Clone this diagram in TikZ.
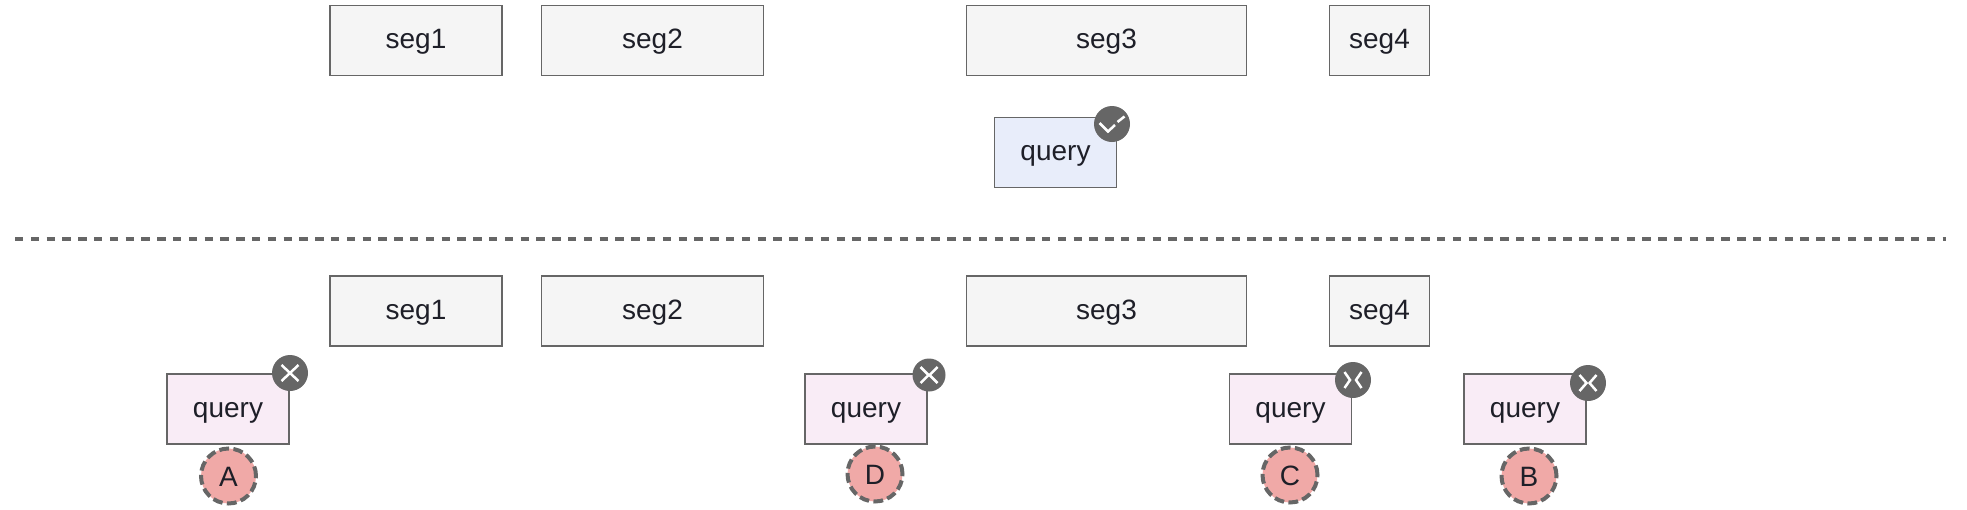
\documentclass[tikz,border=0pt]{standalone}
\usepackage{fontspec}
\setmainfont{Liberation Sans}
\definecolor{edgegray}{HTML}{666666}
\definecolor{inkdark}{HTML}{1E1F28}
\definecolor{segfill}{HTML}{F5F5F5}
\definecolor{hitfill}{HTML}{E8EDFA}
\definecolor{missfill}{HTML}{F9ECF6}
\definecolor{tagfill}{HTML}{F0A9A7}
\tikzset{
	plainbox/.style={draw=edgegray,line width=1.8pt,inner sep=0pt,outer sep=0pt,minimum height=70pt,text=inkdark,font=\fontsize{28}{28}\selectfont,text height=22pt,text depth=6pt},
	segbox/.style={plainbox,fill=segfill},
	hitbox/.style={plainbox,fill=hitfill,minimum width=122pt},
	missbox/.style={plainbox,fill=missfill,minimum width=122pt},
	badge/.style={circle,fill=edgegray,inner sep=0pt,minimum size=36pt},
	tag/.style={circle,draw=edgegray,fill=tagfill,line width=4pt,dash pattern=on 9.8pt off 4.4pt,inner sep=0pt,minimum size=55pt,text=inkdark,font=\fontsize{28}{28}\selectfont,text height=20pt,text depth=0pt},
	markline/.style={draw=white,line width=2.5pt},
	divider/.style={draw=edgegray,line width=4.4pt,dash pattern=on 8.3pt off 7.5pt}
}
\newcommand{\chevrons}[2]{
	\draw[markline,shift={(#1.center)}] (-8.5,-8) -- (-#2,0) -- (-8.5,8);
	\draw[markline,shift={(#1.center)}] (8.5,-8) -- (#2,0) -- (8.5,8);
}
\begin{document}
\begin{tikzpicture}[x=1pt,y=-1pt]
	\useasboundingbox (0,0) rectangle (1967,509);
	
	\foreach \rowname/\rowy in {top/40.5,low/311} {
		\node[segbox,minimum width=172pt] (seg1\rowname) at (416,\rowy) {seg1};
		\node[segbox,minimum width=222pt] (seg2\rowname) at (652.5,\rowy) {seg2};
		\node[segbox,minimum width=280pt] (seg3\rowname) at (1106.5,\rowy) {seg3};
		\node[segbox,minimum width=100pt] (seg4\rowname) at (1379.5,\rowy) {seg4};
	}
	
	\node[hitbox] (queryhit) at (1055.5,152.5) {query};
	\node[badge] (badgehit) at (1112,124) {};
	\draw[markline,shift={(badgehit.center)}] (-12.5,-1) -- (-4,7.5) -- (3,1);
	\draw[markline,shift={(badgehit.center)}] (5.5,-2) -- (12.5,-7.5);
	
	\coordinate (divleft) at (15,238.7);
	\coordinate (divright) at (1946,238.7);
	\draw[divider] (divleft) -- (divright);
	
	\node[missbox] (querya) at (228,409) {query};
	\node[missbox] (queryd) at (866,409) {query};
	\node[missbox] (queryc) at (1290.5,409) {query};
	\node[missbox] (queryb) at (1525,409) {query};
	
	\node[tag] (taga) at (228.5,476) {A};
	\node[tag] (tagd) at (875,474) {D};
	\node[tag] (tagc) at (1290,475) {C};
	\node[tag] (tagb) at (1529,476) {B};
	
	\node[badge] (badgea) at (290,373) {};
	\node[badge,minimum size=33pt] (badged) at (929,375) {};
	\node[badge] (badgec) at (1353,380) {};
	\node[badge] (badgeb) at (1588,383) {};
	
	\chevrons{badgea}{0}
	\chevrons{badged}{0.5}
	\chevrons{badgec}{3}
	\chevrons{badgeb}{1.5}
\end{tikzpicture}
\end{document}
